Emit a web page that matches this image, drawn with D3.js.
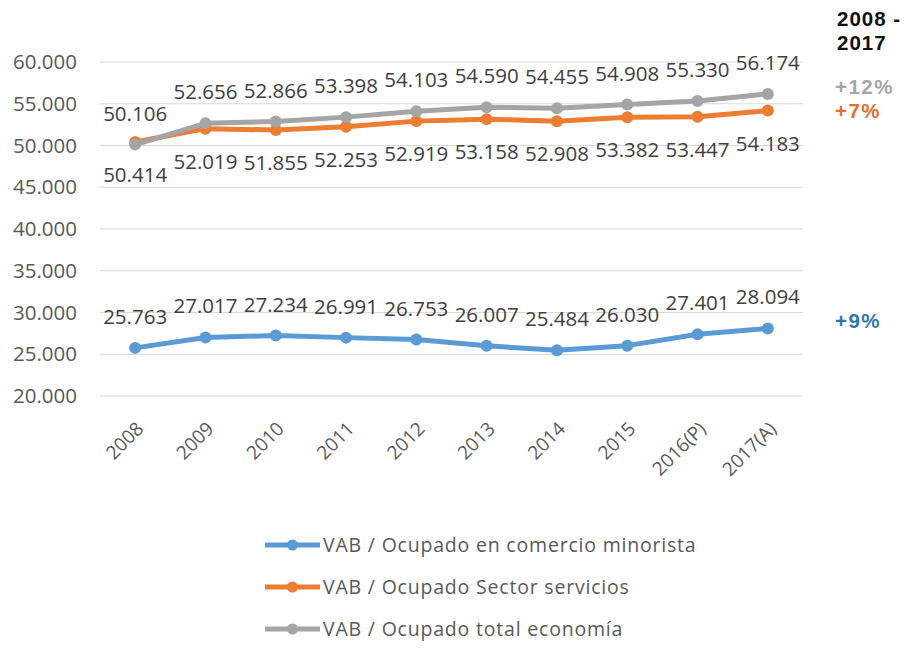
<!DOCTYPE html>
<html>
<head>
<meta charset="utf-8">
<script src="https://cdn.jsdelivr.net/npm/d3@7"></script>
<style>
  body { margin: 0; background: #fff; }
  svg { font-family: "Open Sans", sans-serif; }
</style>
</head>
<body>
<div id="vis1"></div>
<script>
const FRAME_HEIGHT = 648;
const FRAME_WIDTH = 908;
const MARGINS = {left: 100, right: 105, top: 62, bottom: 252};

const YEARS = ["2008", "2009", "2010", "2011", "2012", "2013", "2014", "2015", "2016(P)", "2017(A)"];
const MINORISTA = [25763, 27017, 27234, 26991, 26753, 26007, 25484, 26030, 27401, 28094];
const SERVICIOS = [50414, 52019, 51855, 52253, 52919, 53158, 52908, 53382, 53447, 54183];
const TOTAL = [50106, 52656, 52866, 53398, 54103, 54590, 54455, 54908, 55330, 56174];
const Y_TICKS = [20000, 25000, 30000, 35000, 40000, 45000, 50000, 55000, 60000];

const SERIES = [
  {name: "VAB / Ocupado en comercio minorista", values: MINORISTA, color: "#5B9BD5", labelPos: "above"},
  {name: "VAB / Ocupado Sector servicios", values: SERVICIOS, color: "#ED7D31", labelPos: "below"},
  {name: "VAB / Ocupado total economía", values: TOTAL, color: "#A5A5A5", labelPos: "above"}
];

const GROWTH = [
  {text: "+12%", color: "#A5A5A5", y: 94},
  {text: "+7%", color: "#E2702A", y: 118},
  {text: "+9%", color: "#2E75B6", y: 328}
];

const VIS_HEIGHT = FRAME_HEIGHT - MARGINS.top - MARGINS.bottom;
const VIS_WIDTH = FRAME_WIDTH - MARGINS.left - MARGINS.right;

const es = d3.formatLocale({decimal: ",", thousands: ".", grouping: [3], currency: ["", "€"]});
const fmt = es.format(",.0f");

const FRAME = d3.select("#vis1")
                  .append("svg")
                    .attr("height", FRAME_HEIGHT)
                    .attr("width", FRAME_WIDTH);

const X_SCALE = d3.scalePoint()
                  .domain(YEARS)
                  .range([0, VIS_WIDTH])
                  .padding(0.5);

const Y_SCALE = d3.scaleLinear()
                  .domain([20000, 60000])
                  .range([VIS_HEIGHT, 0]);

const G = FRAME.append("g")
          .attr("transform", "translate(" + MARGINS.left + "," + MARGINS.top + ")");

// gridlines
G.selectAll(".grid")
  .data(Y_TICKS)
  .enter()
  .append("line")
    .attr("x1", 0)
    .attr("x2", VIS_WIDTH)
    .attr("y1", d => Y_SCALE(d))
    .attr("y2", d => Y_SCALE(d))
    .attr("stroke", "#d9d9d9")
    .attr("stroke-width", 1.2);

// y axis
const yAxis = G.append("g")
  .call(d3.axisLeft(Y_SCALE).tickValues(Y_TICKS).tickFormat(fmt).tickSize(0).tickPadding(23));
yAxis.select(".domain").remove();
yAxis.selectAll("text")
  .attr("font-family", "Open Sans, sans-serif")
  .attr("font-size", "20.5px")
  .attr("fill", "#595959");

// x axis labels, rotated like the original
const xAxis = G.append("g")
  .attr("transform", "translate(0," + VIS_HEIGHT + ")")
  .call(d3.axisBottom(X_SCALE).tickSize(0));
xAxis.select(".domain").remove();
xAxis.selectAll("text")
  .attr("font-family", "Open Sans, sans-serif")
  .attr("font-size", "19px")
  .attr("fill", "#595959")
  .attr("text-anchor", "end")
  .attr("dy", 0)
  .attr("y", 0)
  .attr("transform", "translate(9,34) rotate(-45)");

const line = d3.line()
  .x((d, i) => X_SCALE(YEARS[i]))
  .y(d => Y_SCALE(d));

SERIES.forEach(s => {
  G.append("path")
    .datum(s.values)
    .attr("d", line)
    .attr("fill", "none")
    .attr("stroke", s.color)
    .attr("stroke-width", 5)
    .attr("stroke-linejoin", "round");

  G.selectAll(null)
    .data(s.values)
    .enter()
    .append("circle")
      .attr("cx", (d, i) => X_SCALE(YEARS[i]))
      .attr("cy", d => Y_SCALE(d))
      .attr("r", 6)
      .attr("fill", s.color);
});

SERIES.forEach(s => {
  G.selectAll(null)
    .data(s.values)
    .enter()
    .append("text")
      .attr("x", (d, i) => X_SCALE(YEARS[i]))
      .attr("y", d => Y_SCALE(d) + (s.labelPos === "above" ? -24 : 40))
      .attr("text-anchor", "middle")
      .attr("font-size", "20.5px")
      .attr("fill", "#404040")
      .text(d => fmt(d));
});

// period annotation
const ANN_FONT = "Liberation Sans, Arial, sans-serif";
FRAME.append("text")
  .attr("x", 837).attr("y", 26)
  .attr("font-family", ANN_FONT)
  .attr("font-size", "20.5px").attr("font-weight", "bold").attr("letter-spacing", "1px").attr("fill", "#111")
  .text("2008 -");
FRAME.append("text")
  .attr("x", 837).attr("y", 50)
  .attr("font-family", ANN_FONT)
  .attr("font-size", "20.5px").attr("font-weight", "bold").attr("letter-spacing", "1px").attr("fill", "#111")
  .text("2017");

FRAME.selectAll(".growth")
  .data(GROWTH)
  .enter()
  .append("text")
    .attr("x", 835)
    .attr("y", d => d.y)
    .attr("font-family", ANN_FONT)
    .attr("font-size", "20.5px")
    .attr("font-weight", "bold")
    .attr("letter-spacing", "1.5px")
    .attr("fill", d => d.color)
    .text(d => d.text);

// legend
const LEG = FRAME.append("g").attr("transform", "translate(265,545)");
SERIES.forEach((s, i) => {
  const row = LEG.append("g").attr("transform", "translate(0," + (i * 42) + ")");
  row.append("line")
    .attr("x1", 0).attr("x2", 55)
    .attr("stroke", s.color).attr("stroke-width", 5);
  row.append("circle")
    .attr("cx", 27.5).attr("r", 5.5).attr("fill", s.color);
  row.append("text")
    .attr("x", 58).attr("y", 7)
    .attr("font-size", "19.5px")
    .attr("letter-spacing", "0.8px")
    .attr("fill", "#595959")
    .text(s.name);
});
</script>
</body>
</html>
